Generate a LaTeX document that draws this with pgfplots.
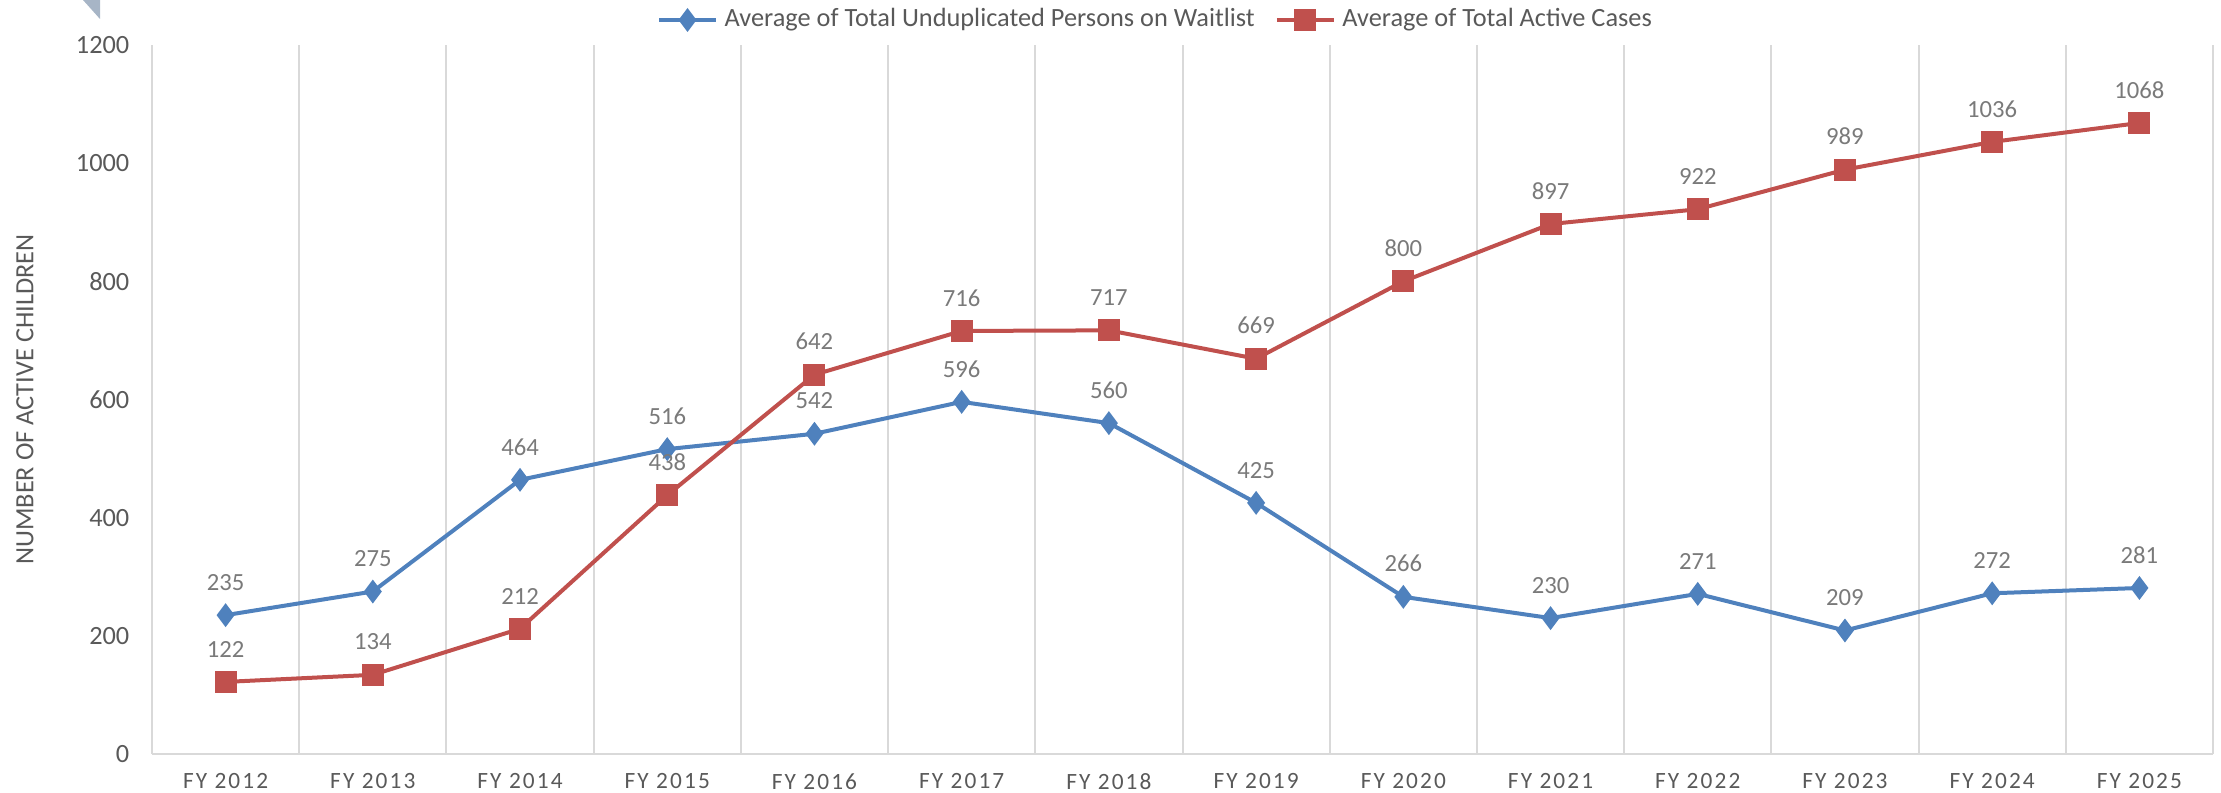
\documentclass[border=0pt]{standalone}
\usepackage{fontspec}
\setmainfont{Carlito}
\newfontfamily\spaced[LetterSpace=9]{Carlito}
\usepackage{pgfplots}
\pgfplotsset{compat=1.18}
\usetikzlibrary{calc}
\definecolor{sblue}{HTML}{4F81BD}
\definecolor{sred}{HTML}{C0504D}
\definecolor{txt}{HTML}{595959}
\definecolor{lbl}{HTML}{7A7A7A}
\definecolor{grd}{HTML}{D9D9D9}
\definecolor{tri}{HTML}{A7B5C6}
\newcommand{\fs}{\fontsize{7.9}{9.5}\selectfont}
\newcommand{\fx}{\fontsize{7.0}{8.4}\selectfont}
\newcommand{\fl}{\fontsize{7.4}{8.9}\selectfont}
\begin{document}
\begin{tikzpicture}
\begin{axis}[
  scale only axis,
  width=618.3pt, height=212.7pt,
  xmin=-0.5, xmax=13.5, ymin=0, ymax=1200,
  xtick={0,...,13},
  xticklabels={FY 2012,FY 2013,FY 2014,FY 2015,FY 2016,FY 2017,FY 2018,FY 2019,FY 2020,FY 2021,FY 2022,FY 2023,FY 2024,FY 2025},
  minor xtick={0.5,1.5,...,13.5},
  xminorgrids=true,
  minor x grid style={grd, line width=0.6pt},
  ytick={0,200,...,1200},
  axis x line*=bottom, axis y line*=left,
  axis line style={grd, line width=0.8pt, -},
  major tick length=0pt, minor tick length=0pt,
  tick style={draw=none},
  /pgf/number format/assume math mode=true,
  /pgf/number format/1000 sep={},
  yticklabel style={font=\fs, text=txt, inner sep=0pt, anchor=east, xshift=-6.6pt},
  xticklabel style={font=\fx\spaced, text=txt, inner sep=0pt, anchor=north, yshift=-5.7pt},
  legend style={at={(0.488,1)}, anchor=center, yshift=7.5pt, draw=none, fill=none,
    font=\fs, text=txt, legend columns=2, inner sep=0pt,
    /tikz/every even column/.append style={column sep=4pt}},
  legend cell align=left,
  nodes near coords,
  nodes near coords style={anchor=south, inner sep=0pt, yshift=6.8pt, font=\fl, text=lbl},
  clip=false,
]
\addplot[sblue, line width=1.2pt, mark=diamond*, mark size=2.6pt, mark options={solid, fill=sblue}]
 coordinates {(0,235) (1,275) (2,464) (3,516) (4,542) (5,596) (6,560) (7,425) (8,266) (9,230) (10,271) (11,209) (12,272) (13,281)};
\addlegendentry{Average of Total Unduplicated Persons on Waitlist}
\addplot[sred, line width=1.2pt, mark=square*, mark size=2.7pt, mark options={solid, fill=sred}]
 coordinates {(0,122) (1,134) (2,212) (3,438) (4,642) (5,716) (6,717) (7,669) (8,800) (9,897) (10,922) (11,989) (12,1036) (13,1068)};
\addlegendentry{Average of Total Active Cases}
\coordinate (bl) at (rel axis cs:0,0);
\node[rotate=90, font=\fs, text=txt, inner sep=0pt] at (axis description cs:-0.0616,0.5) {NUMBER OF ACTIVE CHILDREN};
\end{axis}
\fill[tri] ($(bl)+(-20.7pt,226.2pt)$) -- ($(bl)+(-15.6pt,226.2pt)$) -- ($(bl)+(-15.6pt,220.5pt)$) -- cycle;
\pgfresetboundingbox
\path[use as bounding box] (bl) ++(-45.6pt,-11.7pt) rectangle ++(666.3pt,237.9pt);
\end{tikzpicture}
\end{document}
